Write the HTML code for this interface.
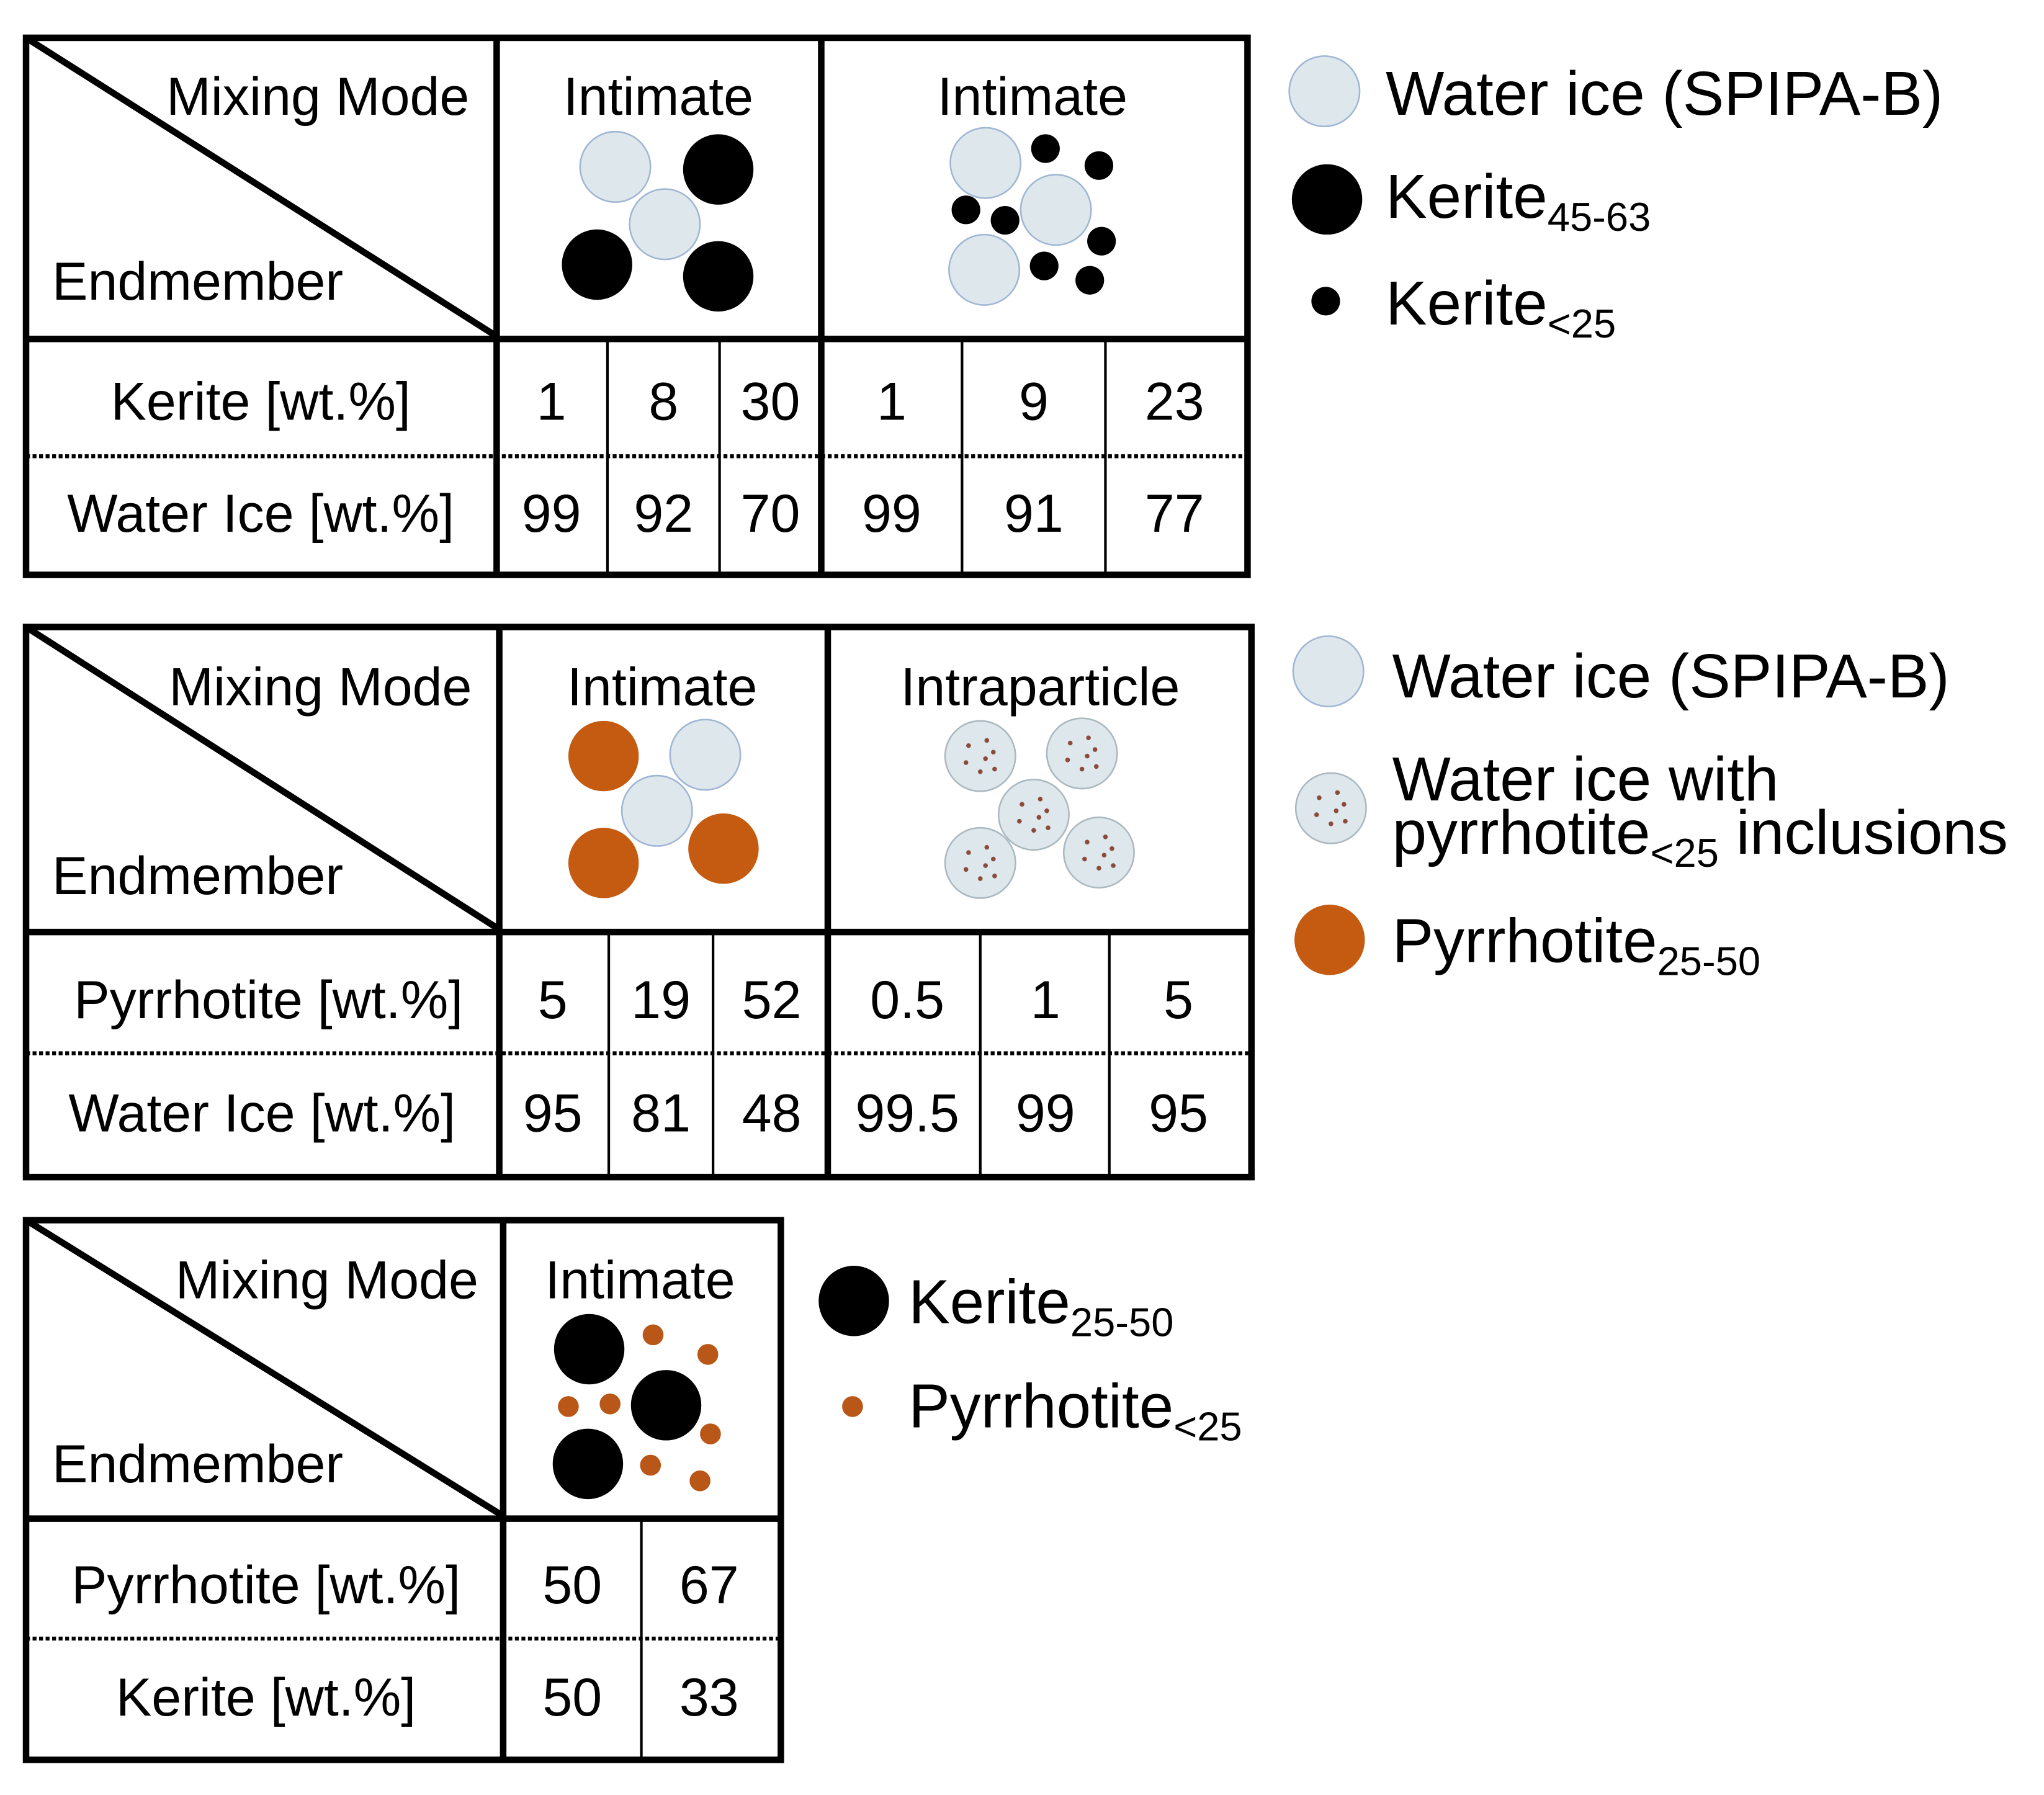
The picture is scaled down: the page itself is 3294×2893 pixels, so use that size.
<!DOCTYPE html>
<html><head><meta charset="utf-8"><style>
html,body{margin:0;padding:0;background:#fff;}
svg{display:block;}
text{font-family:"Liberation Sans",Arial,sans-serif;fill:#000;}
.t{font-size:41px;}
.l{font-size:47.5px;}
.s{font-size:31px;}
</style></head><body>
<svg width="3294" height="2893" viewBox="0 0 1568 1377" preserveAspectRatio="none" xmlns="http://www.w3.org/2000/svg">
<defs>
<g id="ice"><circle r="27" fill="#dde7ec" stroke="#9fb6d4" stroke-width="1.2"/></g>
<g id="kb"><circle r="27" fill="#000"/></g>
<g id="ks"><circle r="11" fill="#000"/></g>
<g id="po"><circle r="27" fill="#c55a11"/></g>
<g id="ps"><circle r="8" fill="#b85718"/></g>
<g id="inc"><circle r="27" fill="#dde7ec" stroke="#aab8bf" stroke-width="1.2"/>
<circle cx="-9" cy="-8" r="1.8" fill="#8b4a3a"/><circle cx="5" cy="-12" r="1.8" fill="#8b4a3a"/><circle cx="-11" cy="5" r="1.8" fill="#8b4a3a"/><circle cx="4" cy="2" r="1.8" fill="#8b4a3a"/><circle cx="10" cy="-3" r="1.8" fill="#8b4a3a"/><circle cx="0" cy="12" r="1.8" fill="#8b4a3a"/><circle cx="11" cy="10" r="1.8" fill="#8b4a3a"/></g>
</defs>

<!-- Table 1 -->
<g stroke="#000" fill="none">
<rect x="20" y="29" width="937" height="412" stroke-width="5"/>
<line x1="20" y1="260" x2="957" y2="260" stroke-width="5"/>
<line x1="381" y1="29" x2="381" y2="441" stroke-width="5"/>
<line x1="630" y1="29" x2="630" y2="441" stroke-width="5"/>
<line x1="466" y1="260" x2="466" y2="441" stroke-width="2"/>
<line x1="552" y1="260" x2="552" y2="441" stroke-width="2"/>
<line x1="738" y1="260" x2="738" y2="441" stroke-width="2"/>
<line x1="848" y1="260" x2="848" y2="441" stroke-width="2"/>
<line x1="20" y1="29" x2="381" y2="258" stroke-width="5"/>
<line x1="20" y1="350" x2="957" y2="350" stroke-width="3" stroke-dasharray="3,2"/>
</g>
<text class="t" x="360" y="88" text-anchor="end">Mixing Mode</text>
<text class="t" x="40" y="230">Endmember</text>
<text class="t" x="505" y="88" text-anchor="middle">Intimate</text>
<text class="t" x="792" y="88" text-anchor="middle">Intimate</text>
<text class="t" x="200" y="322" text-anchor="middle">Kerite [wt.%]</text>
<text class="t" x="200" y="408" text-anchor="middle">Water Ice [wt.%]</text>
<g class="t" text-anchor="middle">
<text x="423" y="322">1</text><text x="509" y="322">8</text><text x="591" y="322">30</text>
<text x="684" y="322">1</text><text x="793" y="322">9</text><text x="901" y="322">23</text>
<text x="423" y="408">99</text><text x="509" y="408">92</text><text x="591" y="408">70</text>
<text x="684" y="408">99</text><text x="793" y="408">91</text><text x="901" y="408">77</text>
</g>
<use href="#ice" x="472" y="128"/><use href="#kb" x="551" y="130"/><use href="#ice" x="510" y="172"/><use href="#kb" x="458" y="203"/><use href="#kb" x="551" y="212"/>
<use href="#ice" x="756" y="125"/><use href="#ice" x="810" y="161"/><use href="#ice" x="755" y="207"/>
<use href="#ks" x="802" y="114"/><use href="#ks" x="843" y="127"/><use href="#ks" x="741" y="161"/><use href="#ks" x="771" y="169"/><use href="#ks" x="845" y="185"/><use href="#ks" x="801" y="204"/><use href="#ks" x="836" y="215"/>
<use href="#ice" x="1016" y="70"/><use href="#kb" x="1018" y="153"/><use href="#ks" x="1017" y="231"/>
<text class="l" x="1063" y="88">Water ice (SPIPA-B)</text>
<text class="l" x="1063" y="167">Kerite<tspan class="s" dy="10">45-63</tspan></text>
<text class="l" x="1063" y="249">Kerite<tspan class="s" dy="10">&lt;25</tspan></text>

<!-- Table 2 -->
<g stroke="#000" fill="none">
<rect x="20" y="481" width="940" height="422" stroke-width="5"/>
<line x1="20" y1="715" x2="960" y2="715" stroke-width="5"/>
<line x1="383" y1="481" x2="383" y2="903" stroke-width="5"/>
<line x1="635" y1="481" x2="635" y2="903" stroke-width="5"/>
<line x1="467" y1="715" x2="467" y2="903" stroke-width="2"/>
<line x1="547" y1="715" x2="547" y2="903" stroke-width="2"/>
<line x1="752" y1="715" x2="752" y2="903" stroke-width="2"/>
<line x1="851" y1="715" x2="851" y2="903" stroke-width="2"/>
<line x1="20" y1="481" x2="383" y2="713" stroke-width="5"/>
<line x1="20" y1="808" x2="960" y2="808" stroke-width="3" stroke-dasharray="3,2"/>
</g>
<text class="t" x="362" y="541" text-anchor="end">Mixing Mode</text>
<text class="t" x="40" y="686">Endmember</text>
<text class="t" x="508" y="541" text-anchor="middle">Intimate</text>
<text class="t" x="798" y="541" text-anchor="middle">Intraparticle</text>
<text class="t" x="206" y="781" text-anchor="middle">Pyrrhotite [wt.%]</text>
<text class="t" x="201" y="868" text-anchor="middle">Water Ice [wt.%]</text>
<g class="t" text-anchor="middle">
<text x="424" y="781">5</text><text x="507" y="781">19</text><text x="592" y="781">52</text>
<text x="696" y="781">0.5</text><text x="802" y="781">1</text><text x="904" y="781">5</text>
<text x="424" y="868">95</text><text x="507" y="868">81</text><text x="592" y="868">48</text>
<text x="696" y="868">99.5</text><text x="802" y="868">99</text><text x="904" y="868">95</text>
</g>
<use href="#po" x="463" y="580"/><use href="#ice" x="541" y="579"/><use href="#ice" x="504" y="622"/><use href="#po" x="463" y="662"/><use href="#po" x="555" y="651"/>
<use href="#inc" x="752" y="580"/><use href="#inc" x="830" y="578"/><use href="#inc" x="793" y="625"/><use href="#inc" x="752" y="662"/><use href="#inc" x="843" y="654"/>
<use href="#ice" x="1019" y="515"/><use href="#inc" x="1021" y="620"/><use href="#po" x="1020" y="721"/>
<text class="l" x="1068" y="535">Water ice (SPIPA-B)</text>
<text class="l" x="1068" y="614">Water ice with</text>
<text class="l" x="1068" y="655">pyrrhotite<tspan class="s" dy="10">&lt;25</tspan><tspan dy="-10"> inclusions</tspan></text>
<text class="l" x="1068" y="738">Pyrrhotite<tspan class="s" dy="10">25-50</tspan></text>

<!-- Table 3 -->
<g stroke="#000" fill="none">
<rect x="20" y="936" width="579" height="414" stroke-width="5"/>
<line x1="20" y1="1165" x2="599" y2="1165" stroke-width="5"/>
<line x1="386" y1="936" x2="386" y2="1350" stroke-width="5"/>
<line x1="492" y1="1165" x2="492" y2="1350" stroke-width="2"/>
<line x1="20" y1="936" x2="386" y2="1163" stroke-width="5"/>
<line x1="20" y1="1257" x2="599" y2="1257" stroke-width="3" stroke-dasharray="3,2"/>
</g>
<text class="t" x="367" y="996" text-anchor="end">Mixing Mode</text>
<text class="t" x="40" y="1137">Endmember</text>
<text class="t" x="491" y="996" text-anchor="middle">Intimate</text>
<text class="t" x="204" y="1230" text-anchor="middle">Pyrrhotite [wt.%]</text>
<text class="t" x="204" y="1316" text-anchor="middle">Kerite [wt.%]</text>
<g class="t" text-anchor="middle">
<text x="439" y="1230">50</text><text x="544" y="1230">67</text>
<text x="439" y="1316">50</text><text x="544" y="1316">33</text>
</g>
<use href="#kb" x="452" y="1035"/><use href="#kb" x="511" y="1078"/><use href="#kb" x="451" y="1123"/>
<use href="#ps" x="501" y="1024"/><use href="#ps" x="543" y="1039"/><use href="#ps" x="436" y="1079"/><use href="#ps" x="468" y="1077"/><use href="#ps" x="545" y="1100"/><use href="#ps" x="499" y="1124"/><use href="#ps" x="537" y="1136"/>
<use href="#kb" x="655" y="998"/><use href="#ps" x="654" y="1079"/>
<text class="l" x="697" y="1015">Kerite<tspan class="s" dy="10">25-50</tspan></text>
<text class="l" x="697" y="1095">Pyrrhotite<tspan class="s" dy="10">&lt;25</tspan></text>
</svg>
</body></html>
